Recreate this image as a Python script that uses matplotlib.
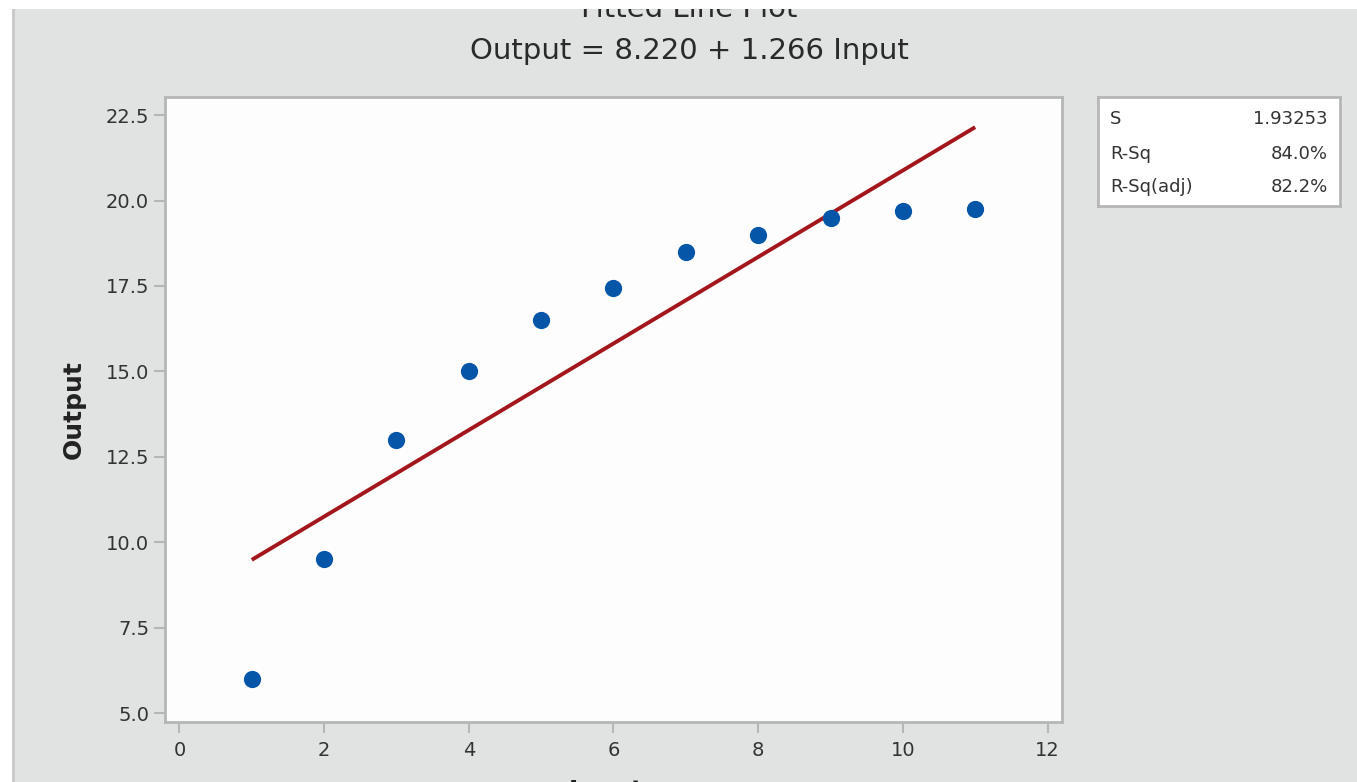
import matplotlib.pyplot as plt
from matplotlib.patches import Rectangle

# data
inputs = [1, 2, 3, 4, 5, 6, 7, 8, 9, 10, 11]
outputs = [6.0, 9.5, 13.0, 15.0, 16.5, 17.45, 18.5, 19.0, 19.5, 19.7, 19.75]
intercept = 8.220
slope = 1.266
stat_names = ['S', 'R-Sq', 'R-Sq(adj)']
stat_values = ['1.93253', '84.0%', '82.2%']

bg = '#e0e3e2'
txt = '#333333'

fig = plt.figure(figsize=(13.57, 7.82), dpi=100, facecolor=bg)
ax = fig.add_axes([0.1216, 0.0767, 0.661, 0.7993], facecolor='#fcfdfc')

fit_x = [inputs[0], inputs[-1]]
fit_y = [intercept + slope * v for v in fit_x]
ax.plot(fit_x, fit_y, color='#a3161c', lw=2.8, solid_capstyle='butt', zorder=2)
ax.scatter(inputs, outputs, s=130, color='#0556a8', zorder=3)

ax.set_xlim(-0.2, 12.2)
ax.set_ylim(4.74, 23.03)
ax.set_xticks(range(0, 13, 2))
ax.set_yticks([5.0, 7.5, 10.0, 12.5, 15.0, 17.5, 20.0, 22.5])
ax.set_yticklabels(['%.1f' % v for v in ax.get_yticks()])
for sp in ax.spines.values():
    sp.set_color('#b5b7b6')
    sp.set_linewidth(2)
ax.tick_params(colors='#b5b7b6', labelcolor=txt, labelsize=14, length=8, width=1.5)
ax.tick_params(axis='x', pad=6)
ax.set_ylabel('Output', fontsize=18, fontweight='bold', color='#222222', labelpad=14)

fig.text(0.508, 0.9785, 'Fitted Line Plot', ha='center', va='baseline',
         fontsize=21, color='#2a2a2a')
fig.text(0.508, 0.935, 'Output = 8.220 + 1.266 Input', ha='center', va='center',
         fontsize=21, color='#2a2a2a')
fig.text(0.447, 0.0035, 'Input', ha='center', va='top', fontsize=18,
         fontweight='bold', color='#222222')

# stats box
sx = fig.add_axes([0.8091, 0.7366, 0.1784, 0.1394], facecolor='white')
sx.set_xticks([])
sx.set_yticks([])
for sp in sx.spines.values():
    sp.set_color('#b5b7b6')
    sp.set_linewidth(2)
rows = [0.8, 0.48, 0.17]
for name, val, ry in zip(stat_names, stat_values, rows):
    sx.text(0.05, ry, name, transform=sx.transAxes, fontsize=13, color=txt, va='center')
    sx.text(0.95, ry, val, transform=sx.transAxes, fontsize=13, color=txt,
            va='center', ha='right')

# white edges of the cropped screenshot
fig.patches.append(Rectangle((0, 1 - 9 / 782), 1, 9 / 782, transform=fig.transFigure,
                             facecolor='white', edgecolor='none', zorder=10))
fig.patches.append(Rectangle((0, 0), 12 / 1357, 1, transform=fig.transFigure,
                             facecolor='white', edgecolor='none', zorder=10))
fig.patches.append(Rectangle((12 / 1357, 0), 3 / 1357, 1 - 9 / 782, transform=fig.transFigure,
                             facecolor='#c9cbca', edgecolor='none', zorder=10))

fig.savefig('out.png', dpi=100, facecolor=bg)
